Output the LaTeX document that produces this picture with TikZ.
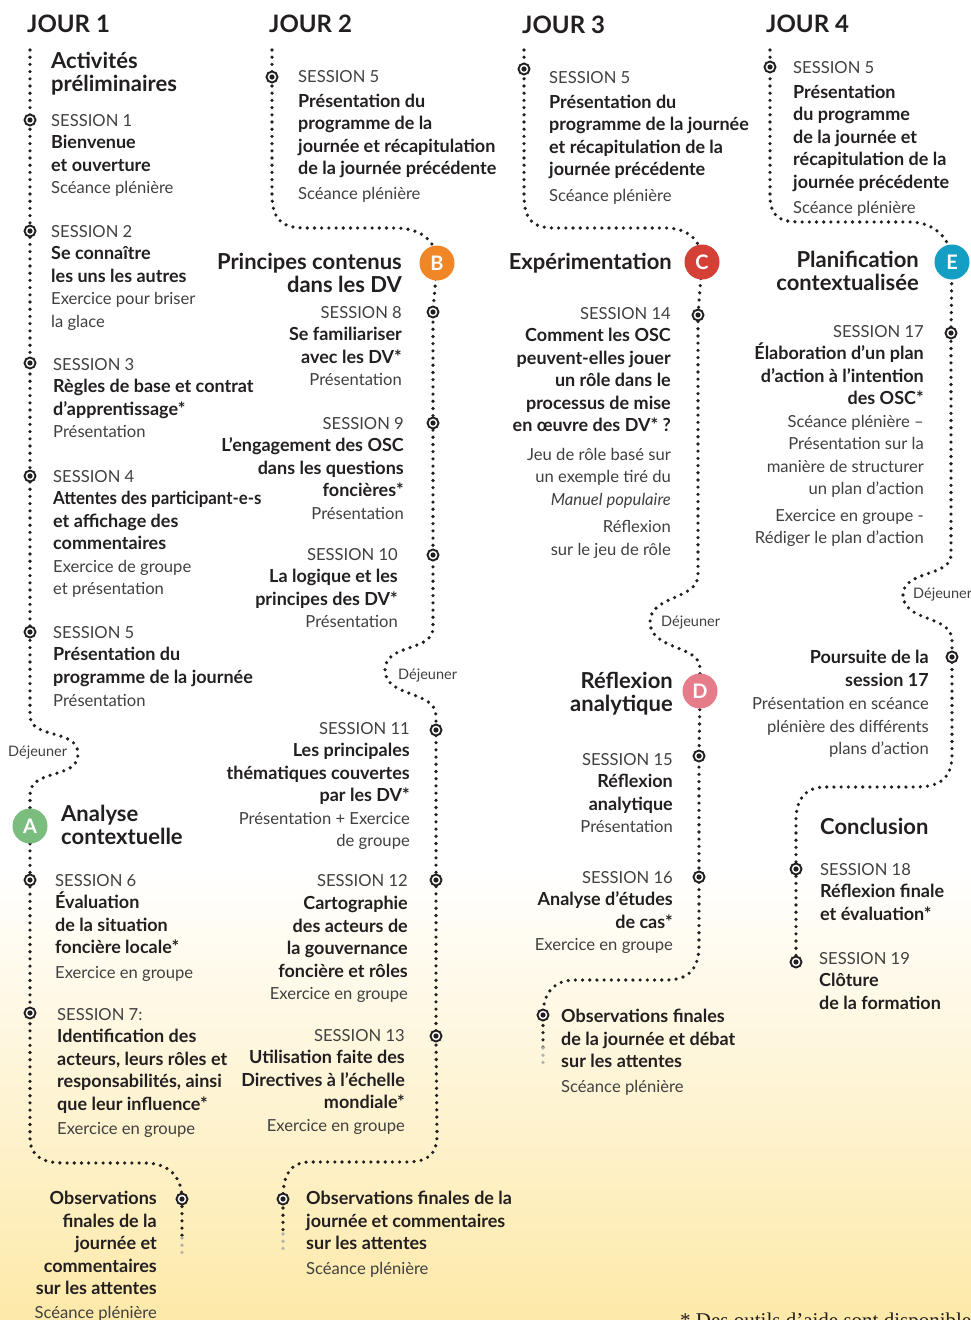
\documentclass[tikz,border=0pt]{standalone}
\usepackage{fontspec}
\setmainfont{Lato}
\newfontfamily\seriffont{Liberation Serif}
\definecolor{ink}{HTML}{231F20}
\definecolor{inkl}{HTML}{404040}
\definecolor{bgy}{RGB}{253,233,168}
\definecolor{cA}{RGB}{122,189,126}
\definecolor{cB}{RGB}{240,134,38}
\definecolor{cC}{RGB}{213,64,54}
\definecolor{cD}{RGB}{230,124,138}
\definecolor{cE}{RGB}{20,158,196}
\newcommand\bt[1]{{\fontsize{18}{22.5}\selectfont\bfseries\color{ink}#1}}
\pgfdeclarelayer{bg}
\pgfdeclarelayer{lines}
\pgfsetlayers{bg,lines,main}
\tikzset{
  dotline/.style={draw=ink, line width=3.6pt, line cap=round, dash pattern=on 0pt off 7.2pt},
  fadeline/.style={dotline, draw=ink!35},
  sessdot/.style={circle, draw=ink, line width=1.9pt, fill=white, minimum size=11pt, inner sep=0pt,
    path picture={\fill[ink] (path picture bounding box.center) circle (2.6pt);}},
  badge/.style={circle, minimum size=35pt, inner sep=0pt, text=white, font=\bfseries\fontsize{20}{20}\selectfont},
  txt/.style={inner sep=0pt, align=left, text=inkl, font=\fontsize{16.6}{22.5}\selectfont,
    execute at begin node={\rule{0pt}{18pt}}, yshift=12pt},
  txtr/.style={txt, align=right},
  heading/.style={inner sep=0pt, text=ink, font=\bfseries\fontsize{22}{23}\selectfont},
  headml/.style={heading, execute at begin node={\rule{0pt}{22pt}}, yshift=16pt},
  dayhead/.style={inner sep=0pt, text=ink, anchor=base west, font=\bfseries\fontsize{24}{26}\selectfont},
  lunch/.style={inner sep=0pt, text=inkl, font=\fontsize{14.5}{16}\selectfont},
}
\begin{document}
\begin{tikzpicture}[x=1pt, y=-1pt]
\useasboundingbox (0,0) rectangle (971,1320);
\clip (0,0) rectangle (971,1320);
\begin{pgfonlayer}{bg}
  \fill[white] (0,0) rectangle (971,1320);
  \shade[top color=white, bottom color=bgy] (0,870) rectangle (971,1320);
\end{pgfonlayer}

% ---------- day headings
\node[dayhead] (d1) at (27,32) {JOUR 1};
\node[dayhead] (d2) at (269,32) {JOUR 2};
\node[dayhead] (d3) at (522,33) {JOUR 3};
\node[dayhead] (d4) at (766,32) {JOUR 4};

% ---------- markers and badges
\node[sessdot] (m11) at (30,120) {};
\node[sessdot] (m12) at (30,231) {};
\node[sessdot] (m13) at (30,363) {};
\node[sessdot] (m14) at (30,476) {};
\node[sessdot] (m15) at (30,632) {};
\node[badge, fill=cA] (A) at (30,826) {A};
\node[sessdot] (m16) at (30,880) {};
\node[sessdot] (m17) at (30,1013) {};
\node[sessdot] (m18) at (182,1199) {};

\node[sessdot] (m21) at (272,77) {};
\node[badge, fill=cB] (B) at (437,263) {B};
\node[sessdot] (m22) at (433,312) {};
\node[sessdot] (m23) at (433,423) {};
\node[sessdot] (m24) at (433,555) {};
\node[sessdot] (m25) at (436,730) {};
\node[sessdot] (m26) at (436,880) {};
\node[sessdot] (m27) at (436,1036) {};
\node[sessdot] (m28) at (283,1199) {};

\node[sessdot] (m31) at (524,69) {};
\node[badge, fill=cC] (C) at (702,262) {C};
\node[sessdot] (m32) at (698,315) {};
\node[badge, fill=cD] (D) at (700,691) {D};
\node[sessdot] (m33) at (699,756) {};
\node[sessdot] (m34) at (699,877) {};
\node[sessdot] (m35) at (543,1015) {};

\node[sessdot] (m41) at (770,67) {};
\node[badge, fill=cE] (E) at (952,262) {E};
\node[sessdot] (m42) at (951,333) {};
\node[sessdot] (m43) at (952,657) {};
\node[sessdot] (m44) at (796,869) {};
\node[sessdot] (m45) at (796,962) {};

% ---------- free ends
\coordinate (s1) at (30,50);
\coordinate (s2) at (272,50);
\coordinate (s3) at (524,50);
\coordinate (s4) at (770,50);
\coordinate (e1) at (182,1238);
\coordinate (f1) at (182,1256);
\coordinate (e2) at (283,1234);
\coordinate (f2) at (283,1250);
\coordinate (e3) at (543,1048);
\coordinate (f3) at (543,1064);

% ---------- column 1 texts
\node[headml, align=left, anchor=north west] (h1) at (51,68) {Activités\\préliminaires};
\node[txt, anchor=north west] (t11) at (51,126) {SESSION 1\\\bt{Bienvenue}\\\bt{et ouverture}\\Scéance plénière};
\node[txt, anchor=north west] (t12) at (51,237) {SESSION 2\\\bt{Se connaître}\\\bt{les uns les autres}\\Exercice pour briser\\la glace};
\node[txt, anchor=north west] (t13) at (53,370) {SESSION 3\\\bt{Règles de base et contrat}\\\bt{d’apprentissage*}\\Présentation};
\node[txt, anchor=north west] (t14) at (53,482) {SESSION 4\\\scalebox{0.935}[1]{\bt{Attentes des participant-e-s}}\\\bt{et affichage des}\\\bt{commentaires}\\Exercice de groupe\\et présentation};
\node[txt, anchor=north west] (t15) at (53,638) {SESSION 5\\\bt{Présentation du}\\\bt{programme de la journée}\\[1pt]Présentation};
\node[lunch, anchor=west] (l1) at (8,753) {Déjeuner};
\node[headml, align=left, anchor=north west] (h2) at (61,821) {Analyse\\contextuelle};
\node[txt, anchor=north west] (t16) at (55,886) {SESSION 6\\\bt{Évaluation}\\\bt{de la situation}\\\bt{foncière locale*}\\[2pt]Exercice en groupe};
\node[txt, anchor=north west] (t17) at (57,1020) {SESSION 7:\\\bt{Identification des}\\\bt{acteurs, leurs rôles et}\\\bt{responsabilités, ainsi}\\\bt{que leur influence*}\\[2pt]Exercice en groupe};
\node[txtr, anchor=north east] (t18) at (157,1203) {\bt{Observations}\\\bt{finales de la}\\\bt{journée et}\\\bt{commentaires}\\\bt{sur les attentes}\\[1pt]Scéance plénière};

% ---------- column 2 texts
\node[txt, anchor=north west] (t21) at (298,82) {SESSION 5\\[2.5pt]\bt{Présentation du}\\\bt{programme de la}\\\bt{journée et récapitulation}\\\bt{de la journée précédente}\\[2.5pt]Scéance plénière};
\node[headml, align=right, anchor=north east] (h3) at (402,269) {Principes contenus\\dans les DV};
\node[txtr, anchor=north east] (t22) at (402,318) {SESSION 8\\\bt{Se familiariser}\\\bt{avec les DV*}\\Présentation};
\node[txtr, anchor=north east] (t23) at (404,429) {SESSION 9\\\bt{L’engagement des OSC}\\\bt{dans les questions}\\\bt{foncières*}\\Présentation};
\node[txtr, anchor=north east] (t24) at (398,560) {SESSION 10\\\bt{La logique et les}\\\bt{principes des DV*}\\Présentation};
\node[lunch, anchor=west] (l2) at (398,676) {Déjeuner};
\node[txtr, anchor=north east] (t25) at (410,734) {SESSION 11\\\bt{Les principales}\\\bt{thématiques couvertes}\\\bt{par les DV*}\\Présentation + Exercice\\de groupe};
\node[txtr, anchor=north east] (t26) at (408,886) {SESSION 12\\[1pt]\bt{Cartographie}\\\bt{des acteurs de}\\\bt{la gouvernance}\\\bt{foncière et rôles}\\Exercice en groupe};
\node[txtr, anchor=north east] (t27) at (405,1041) {SESSION 13\\\bt{Utilisation faite des}\\\bt{Directives à l’échelle}\\\bt{mondiale*}\\Exercice en groupe};
\node[txt, anchor=north west] (t28) at (306,1203) {\bt{Observations finales de la}\\\bt{journée et commentaires}\\\bt{sur les attentes}\\[2pt]Scéance plénière};

% ---------- column 3 texts
\node[txt, anchor=north west] (t31) at (549,83) {SESSION 5\\[2.5pt]\bt{Présentation du}\\\bt{programme de la journée}\\\bt{et récapitulation de la}\\\bt{journée précédente}\\[3pt]Scéance plénière};
\node[heading, anchor=base east] (h4) at (672,269) {Expérimentation};
\node[txtr, anchor=north east] (t32) at (671,319) {SESSION 14\\\bt{Comment les OSC}\\\bt{peuvent-elles jouer}\\\bt{un rôle dans le}\\\bt{processus de mise}\\\bt{en œuvre des DV* ?}\\[6pt]Jeu de rôle basé sur\\un exemple tiré du\\\textit{Manuel populaire}\\[5pt]Réflexion\\sur le jeu de rôle};
\node[lunch, anchor=west] (l3) at (661,623) {Déjeuner};
\node[headml, align=right, anchor=north east] (h5) at (673,688) {Réflexion\\analytique};
\node[txtr, anchor=north east] (t33) at (673,765) {SESSION 15\\\bt{Réflexion}\\\bt{analytique}\\Présentation};
\node[txtr, anchor=north east] (t34) at (673,883) {SESSION 16\\\bt{Analyse d’études}\\\bt{de cas*}\\Exercice en groupe};
\node[txt, anchor=north west] (t35) at (561,1021) {\bt{Observations finales}\\\bt{de la journée et débat}\\\bt{sur les attentes}\\[2pt]Scéance plénière};

% ---------- column 4 texts
\node[txt, anchor=north west] (t41) at (793,73) {SESSION 5\\[2.5pt]\bt{Présentation}\\\bt{du programme}\\\bt{de la journée et}\\\bt{récapitulation de la}\\\bt{journée précédente}\\[2.5pt]Scéance plénière};
\node[headml, align=right, anchor=north east] (h6) at (919,267) {Planification\\contextualisée};
\node[txtr, anchor=north east] (t42) at (924,337) {SESSION 17\\\bt{Élaboration d’un plan}\\\bt{d’action à l'intention}\\\bt{des OSC*}\\Scéance plénière –\\Présentation sur la\\manière de structurer\\un plan d’action\\[4pt]Exercice en groupe -\\Rédiger le plan d’action};
\node[lunch, anchor=west] (l4) at (913,595) {Déjeuner};
\node[txtr, anchor=north east] (t43) at (929,662) {\bt{Poursuite de la}\\\bt{session 17}\\[1pt]Présentation en scéance\\plénière des différents\\plans d’action};
\node[heading, anchor=base west] (h7) at (820,834) {Conclusion};
\node[txt, anchor=north west] (t44) at (820,875) {SESSION 18\\\bt{Réflexion finale}\\\bt{et évaluation*}};
\node[txt, anchor=north west] (t45) at (819,964) {SESSION 19\\\bt{Clôture}\\\bt{de la formation}};

% ---------- footnote (cut by the page edge)
\node[anchor=base west, inner sep=0pt, text=ink, font=\seriffont\fontsize{21}{23}\selectfont] (fn) at (680,1327) {* Des outils d’aide sont disponibles};

% ---------- dotted timelines
\begin{pgfonlayer}{lines}
\draw[dotline] (s1) -- (m11.center) -- (m12.center) -- (m13.center) -- (m14.center) -- (m15.center)
  -- (30,715) .. controls (30,740) and (78,728) .. (78,754) .. controls (78,780) and (30,768) .. (30,795)
  -- (A.center) -- (m16.center) -- (m17.center) -- (30,1138)
  .. controls (30,1158) and (45,1163) .. (65,1163) -- (145,1163)
  .. controls (170,1163) and (182,1178) .. (m18.center) -- (e1);
\draw[fadeline] (e1) -- (f1);

\draw[dotline] (s2) -- (m21.center) -- (272,195)
  .. controls (272,222) and (285,228) .. (305,228) -- (395,228)
  .. controls (420,228) and (437,240) .. (B.center) -- (m22.center) -- (m23.center) -- (m24.center)
  -- (433,628) .. controls (433,652) and (385,643) .. (385,670) .. controls (385,698) and (436,690) .. (436,716)
  -- (m25.center) -- (m26.center) -- (m27.center) -- (437,1135)
  .. controls (437,1157) and (425,1162) .. (405,1162) -- (310,1162)
  .. controls (290,1162) and (283,1175) .. (m28.center) -- (e2);
\draw[fadeline] (e2) -- (f2);

\draw[dotline] (s3) -- (m31.center) -- (524,195)
  .. controls (524,222) and (535,228) .. (555,228) -- (665,228)
  .. controls (688,228) and (702,240) .. (C.center) -- (m32.center) -- (698,575)
  .. controls (698,600) and (650,595) .. (650,622) .. controls (650,650) and (700,645) .. (700,668)
  -- (D.center) -- (m33.center) -- (m34.center) -- (699,945)
  .. controls (699,973) and (685,980) .. (665,980) -- (575,980)
  .. controls (555,980) and (543,992) .. (m35.center) -- (e3);
\draw[fadeline] (e3) -- (f3);

\draw[dotline] (s4) -- (m41.center) -- (770,195)
  .. controls (770,217) and (780,222) .. (800,222) -- (910,222)
  .. controls (935,222) and (952,240) .. (E.center) -- (m42.center) -- (951,555)
  .. controls (951,577) and (903,570) .. (903,595) .. controls (903,622) and (952,615) .. (952,640)
  -- (m43.center) -- (952,755)
  .. controls (952,782) and (935,787) .. (915,787) -- (825,787)
  .. controls (805,787) and (796,800) .. (796,820) -- (m44.center) -- (m45.center);
\end{pgfonlayer}
\end{tikzpicture}
\end{document}
